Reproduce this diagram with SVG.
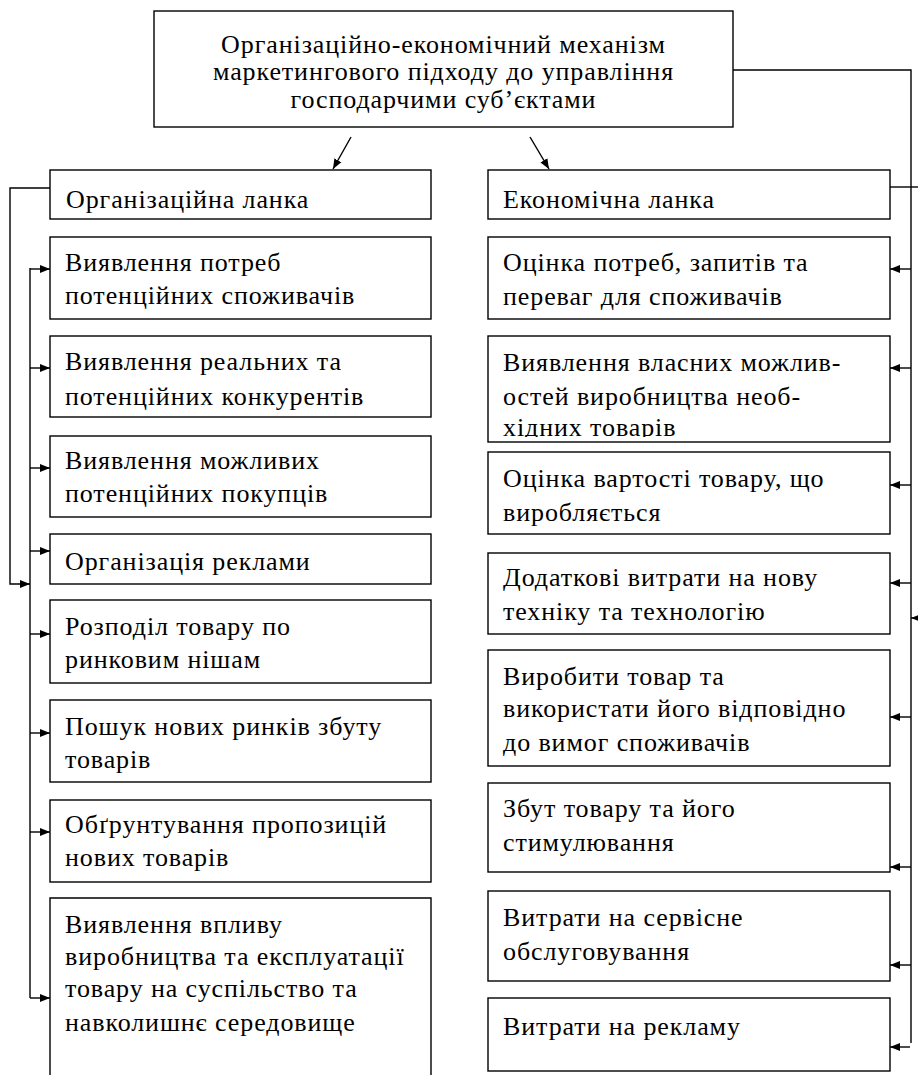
<svg xmlns="http://www.w3.org/2000/svg" width="918" height="1075" viewBox="0 0 918 1075">
<style>
.box{fill:#fff;stroke:#000;stroke-width:1.4}
.ln{fill:none;stroke:#000;stroke-width:1.4}
text{font-family:"Liberation Serif","Times New Roman",serif;font-size:26px;letter-spacing:0.9px;fill:#000}
.c{text-anchor:middle}
</style>
<defs>
<marker id="ah" markerUnits="userSpaceOnUse" markerWidth="12" markerHeight="10" refX="10" refY="5" orient="auto">
<path d="M0,1 L10,5 L0,9 Z" fill="#000"/>
</marker>
<clipPath id="clipR2"><rect x="488" y="336" width="402" height="101"/></clipPath>
</defs>
<g id="top">
<rect class="box" x="154" y="11" width="579" height="116"/>
<text class="c" x="443.5" y="53">Організаційно-економічний механізм</text>
<text class="c" x="443.5" y="80">маркетингового підходу до управління</text>
<text class="c" x="443.5" y="108">господарчими суб’єктами</text>
</g>
<g id="org">
<rect class="box" x="50" y="170" width="381" height="49"/>
<text x="66" y="208">Організаційна ланка</text>
</g>
<g id="eco">
<rect class="box" x="488" y="170" width="402" height="49"/>
<text x="503" y="208">Економічна ланка</text>
</g>
<g id="l1"><rect class="box" x="50" y="237" width="381" height="82"/><text x="65" y="271">Виявлення потреб</text><text x="65" y="304">потенційних споживачів</text></g>
<g id="l2"><rect class="box" x="50" y="336" width="381" height="81"/><text x="65" y="370">Виявлення реальних та</text><text x="65" y="405">потенційних конкурентів</text></g>
<g id="l3"><rect class="box" x="50" y="436" width="381" height="81"/><text x="65" y="469">Виявлення можливих</text><text x="65" y="502">потенційних покупців</text></g>
<g id="l4"><rect class="box" x="50" y="534" width="381" height="50"/><text x="65" y="570">Організація реклами</text></g>
<g id="l5"><rect class="box" x="50" y="600" width="381" height="83"/><text x="65" y="635">Розподіл товару по</text><text x="65" y="668">ринковим нішам</text></g>
<g id="l6"><rect class="box" x="50" y="700" width="381" height="82"/><text x="65" y="735">Пошук нових ринків збуту</text><text x="65" y="768">товарів</text></g>
<g id="l7"><rect class="box" x="50" y="800" width="381" height="82"/><text x="65" y="833">Обґрунтування пропозицій</text><text x="65" y="866">нових товарів</text></g>
<g id="l8"><path class="box" d="M50,1076 V898 H431 V1076"/><text x="65" y="933">Виявлення впливу</text><text x="65" y="965">виробництва та експлуатації</text><text x="65" y="997">товару на суспільство та</text><text x="65" y="1031">навколишнє середовище</text></g>
<g id="r1"><rect class="box" x="488" y="237" width="402" height="82"/><text x="503" y="271">Оцінка потреб, запитів та</text><text x="503" y="305">переваг для споживачів</text></g>
<g id="r2"><rect class="box" x="488" y="336" width="402" height="106"/><g clip-path="url(#clipR2)"><text x="503" y="371">Виявлення власних можлив-</text><text x="503" y="405">остей виробництва необ-</text><text x="503" y="436">хідних товарів</text></g></g>
<g id="r3"><rect class="box" x="488" y="452" width="402" height="82"/><text x="503" y="487">Оцінка вартості товару, що</text><text x="503" y="521">виробляється</text></g>
<g id="r4"><rect class="box" x="488" y="553" width="402" height="81"/><text x="503" y="586">Додаткові витрати на нову</text><text x="503" y="620">техніку та технологію</text></g>
<g id="r5"><rect class="box" x="488" y="650" width="402" height="116"/><text x="503" y="685">Виробити товар та</text><text x="503" y="717">використати його відповідно</text><text x="503" y="751">до вимог споживачів</text></g>
<g id="r6"><rect class="box" x="488" y="783" width="402" height="89"/><text x="503" y="817">Збут товару та його</text><text x="503" y="851">стимулювання</text></g>
<g id="r7"><rect class="box" x="488" y="891" width="402" height="90"/><text x="503" y="926">Витрати на сервісне</text><text x="503" y="960">обслуговування</text></g>
<g id="r8"><rect class="box" x="488" y="998" width="402" height="73"/><text x="503" y="1035">Витрати на рекламу</text></g>
<g id="connectors">
<line class="ln" x1="351" y1="137" x2="333" y2="169" marker-end="url(#ah)"/>
<line class="ln" x1="530" y1="137" x2="549" y2="169" marker-end="url(#ah)"/>
<path class="ln" d="M50,188 H10 V584 H30" marker-end="url(#ah)"/>
<line class="ln" x1="30" y1="268" x2="30" y2="998"/>
<line class="ln" x1="30" y1="269" x2="50" y2="269" marker-end="url(#ah)"/>
<line class="ln" x1="30" y1="368" x2="50" y2="368" marker-end="url(#ah)"/>
<line class="ln" x1="30" y1="468" x2="50" y2="468" marker-end="url(#ah)"/>
<line class="ln" x1="30" y1="551" x2="50" y2="551" marker-end="url(#ah)"/>
<line class="ln" x1="30" y1="634" x2="50" y2="634" marker-end="url(#ah)"/>
<line class="ln" x1="30" y1="733" x2="50" y2="733" marker-end="url(#ah)"/>
<line class="ln" x1="30" y1="832" x2="50" y2="832" marker-end="url(#ah)"/>
<line class="ln" x1="30" y1="998" x2="50" y2="998" marker-end="url(#ah)"/>
<path class="ln" d="M733,70 H911 V1043"/>
<line class="ln" x1="890" y1="187" x2="918" y2="187"/>
<line class="ln" x1="920" y1="618" x2="911" y2="618" marker-end="url(#ah)"/>
<line class="ln" x1="911" y1="269" x2="890" y2="269" marker-end="url(#ah)"/>
<line class="ln" x1="911" y1="368" x2="890" y2="368" marker-end="url(#ah)"/>
<line class="ln" x1="911" y1="485" x2="890" y2="485" marker-end="url(#ah)"/>
<line class="ln" x1="911" y1="583" x2="890" y2="583" marker-end="url(#ah)"/>
<line class="ln" x1="911" y1="717" x2="890" y2="717" marker-end="url(#ah)"/>
<line class="ln" x1="911" y1="867" x2="890" y2="867" marker-end="url(#ah)"/>
<line class="ln" x1="911" y1="965" x2="890" y2="965" marker-end="url(#ah)"/>
<line class="ln" x1="910" y1="1047" x2="890" y2="1047" marker-end="url(#ah)"/>
</g>
</svg>
